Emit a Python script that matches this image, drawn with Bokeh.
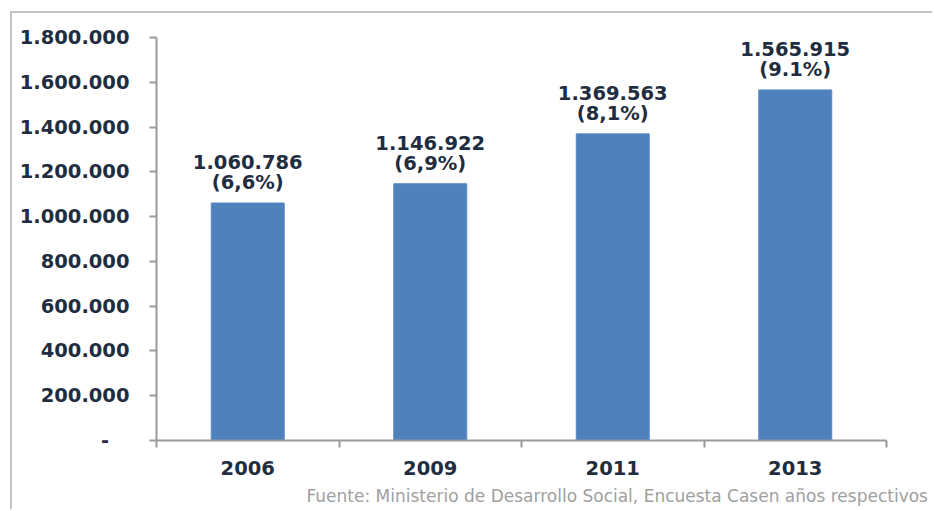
import numpy as np
from bokeh.plotting import figure
from bokeh.models import Range1d, FixedTicker, Title, ColumnDataSource
from bokeh.core.properties import value
from bokeh.embed import file_html
from bokeh.resources import INLINE

years = ["2006", "2009", "2011", "2013"]
counts = [1060786, 1146922, 1369563, 1565915]
count_labels = ["1.060.786", "1.146.922", "1.369.563", "1.565.915"]
pct_labels = ["(6,6%)", "(6,9%)", "(8,1%)", "(9.1%)"]
y_ticks = [0, 200000, 400000, 600000, 800000, 1000000, 1200000, 1400000, 1600000, 1800000]
y_tick_labels = ["-\u00a0\u00a0\u00a0", "200.000", "400.000", "600.000", "800.000", "1.000.000",
                 "1.200.000", "1.400.000", "1.600.000", "1.800.000"]
source_text = "Fuente: Ministerio de Desarrollo Social, Encuesta Casen años respectivos"

FONT = "DejaVu Sans"
TXT = "#1f2d40"
AX = "#9a9a9a"
FS = "19.5px"

xpos = np.arange(len(years)) + 0.5
src = ColumnDataSource(dict(x=xpos, top=counts, c=count_labels, p=pct_labels))

p = figure(width=922, height=498, x_range=Range1d(0, len(years)), y_range=Range1d(0, 1800000),
           output_backend="svg", toolbar_location=None,
           min_border_left=144, min_border_right=48, min_border_top=24, min_border_bottom=71)
p.styles = {"border-left": "2px solid #c4c4c4", "border-top": "2px solid #c4c4c4",
            "margin-left": "10px", "margin-top": "11px", "overflow": "hidden"}
p.outline_line_color = None
p.xgrid.visible = False
p.ygrid.visible = False
p.background_fill_color = "white"
p.border_fill_color = "white"

p.vbar(x="x", top="top", width=0.4, bottom=0, source=src, fill_color="#4f81bd", line_color="#5a8ac6", line_width=1)

p.text(x="x", y="top", text="p", source=src, text_align="center", text_baseline="bottom", y_offset=-9,
       text_font=value(FONT), text_font_style="bold", text_font_size=FS, text_color=TXT)
p.text(x="x", y="top", text="c", source=src, text_align="center", text_baseline="bottom", y_offset=-34,
       text_font=value(FONT), text_font_style="bold", text_font_size=FS, text_color=TXT)

# y axis
ya = p.yaxis[0]
ya.ticker = FixedTicker(ticks=y_ticks, minor_ticks=[])
ya.major_label_overrides = {t: l for t, l in zip(y_ticks, y_tick_labels)}
ya.axis_line_color = AX
ya.axis_line_width = 2
ya.major_tick_line_color = AX
ya.major_tick_line_width = 2
ya.major_tick_out = 7
ya.major_tick_in = 0
ya.minor_tick_line_color = None
ya.major_label_standoff = 20
ya.major_label_text_font = FONT
ya.major_label_text_font_style = "bold"
ya.major_label_text_font_size = FS
ya.major_label_text_color = TXT

# x axis
xa = p.xaxis[0]
xa.ticker = FixedTicker(ticks=list(xpos), minor_ticks=list(range(len(years) + 1)))
xa.major_label_overrides = {float(x): y for x, y in zip(xpos, years)}
xa.axis_line_color = AX
xa.axis_line_width = 2
xa.major_tick_line_color = None
xa.major_tick_out = 0
xa.major_tick_in = 0
xa.minor_tick_line_color = AX
xa.minor_tick_line_width = 2
xa.minor_tick_out = 7
xa.minor_tick_in = 0
xa.major_label_standoff = 13
xa.major_label_text_font = FONT
xa.major_label_text_font_style = "bold"
xa.major_label_text_font_size = FS
xa.major_label_text_color = TXT
xa.major_label_text_line_height = 0.8

p.add_layout(Title(text=source_text, align="left", offset=150, standoff=12,
                   text_font=FONT, text_font_size="17px", text_color="#a0a0a0",
                   text_font_style="normal", text_line_height=0.8), "below")

open("out.html", "w").write(file_html(p, INLINE))
